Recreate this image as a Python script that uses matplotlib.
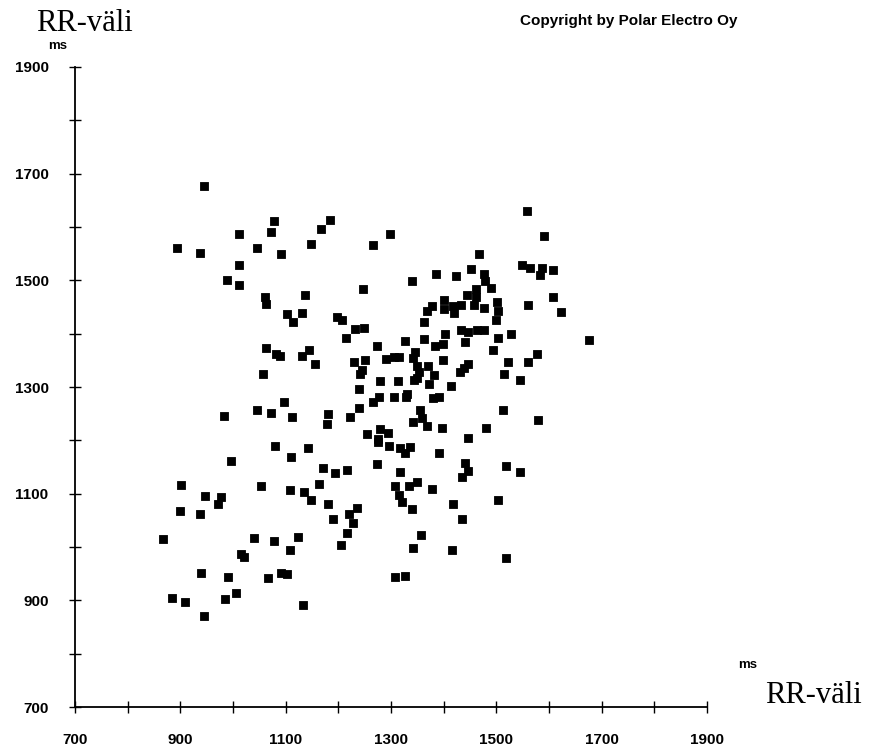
import matplotlib
matplotlib.use("Agg")
import matplotlib.pyplot as plt
from matplotlib.ticker import MultipleLocator

# RR interval n (x) vs RR interval n+1 (y), ms
rr_n = [945, 1077, 1185, 1168, 1011, 1073, 894, 938, 1045, 1091, 1148, 1011, 989, 1011,
        1060, 1063, 1137, 1102, 1131, 1114, 1299, 1266, 1468, 1385, 1424, 1452, 1477,
        1478, 1340, 1247, 1490, 1461, 1461, 1444, 1401, 1502, 1377, 1369, 1401, 1418,
        1419, 1433, 1457, 1477, 1503, 1499, 1363, 1197, 1207, 1232, 1248, 1558, 1591,
        1549, 1564, 1587, 1583, 1608, 1608, 1560, 1623, 1504, 1527, 1675, 1493, 1577,
        1523, 1560, 1514, 1545, 1513, 1580, 1518, 1544, 1504, 1518, 1063, 1082, 1089,
        1144, 1131, 1156, 1057, 1096, 1045, 1072, 1112, 982, 1181, 1178, 1080, 1142,
        1110, 996, 1170, 1215, 1433, 1446, 1464, 1476, 1403, 1326, 1363, 1440, 1273,
        1384, 1399, 1346, 1341, 1290, 1306, 1316, 1229, 1251, 1399, 1349, 1353, 1349,
        1344, 1370, 1447, 1439, 1431, 1245, 1242, 1382, 1279, 1313, 1372, 1414, 1239,
        1330, 1328, 1305, 1277, 1265, 1380, 1392, 1239, 1223, 1355, 1358, 1342, 1368,
        1397, 1480, 1280, 1294, 1254, 1275, 1275, 1446, 1297, 1317, 1336, 1326, 1392,
        1274, 1194, 1216, 1318, 1441, 1446, 1434, 902, 946, 977, 972, 899, 937, 1054,
        1108, 1135, 1164, 1148, 1180, 868, 1039, 1078, 1123, 1108, 1016, 1021, 939,
        990, 1067, 1091, 1102, 885, 909, 985, 1006, 944, 1133, 1307, 1334, 1349, 1378,
        1315, 1321, 1339, 1235, 1220, 1189, 1227, 1216, 1205, 1418, 1435, 1357, 1342,
        1415, 1308, 1327]
rr_n1 = [1677, 1611, 1613, 1596, 1586, 1590, 1561, 1552, 1561, 1549, 1568, 1529, 1501, 1491,
         1468, 1456, 1473, 1437, 1439, 1421, 1587, 1567, 1550, 1511, 1509, 1521, 1511,
         1499, 1498, 1483, 1485, 1484, 1468, 1472, 1464, 1459, 1452, 1442, 1447, 1451,
         1439, 1453, 1453, 1448, 1443, 1426, 1422, 1431, 1425, 1409, 1411, 1630, 1583,
         1529, 1524, 1524, 1510, 1519, 1468, 1454, 1441, 1392, 1399, 1388, 1370, 1362,
         1347, 1347, 1324, 1314, 1256, 1238, 1151, 1141, 1088, 979, 1374, 1362, 1358,
         1369, 1358, 1343, 1324, 1271, 1256, 1251, 1244, 1245, 1250, 1231, 1190, 1185,
         1169, 1161, 1149, 1392, 1407, 1403, 1407, 1406, 1399, 1387, 1390, 1385, 1376,
         1377, 1381, 1365, 1355, 1353, 1357, 1356, 1347, 1351, 1350, 1340, 1329, 1316,
         1313, 1339, 1343, 1335, 1329, 1332, 1324, 1323, 1312, 1312, 1305, 1301, 1296,
         1286, 1282, 1281, 1282, 1272, 1280, 1281, 1261, 1244, 1257, 1241, 1234, 1226,
         1223, 1223, 1222, 1213, 1211, 1203, 1196, 1204, 1189, 1186, 1188, 1177, 1176,
         1156, 1139, 1145, 1140, 1157, 1143, 1131, 1117, 1096, 1094, 1081, 1067, 1062,
         1114, 1107, 1103, 1119, 1088, 1080, 1015, 1016, 1012, 1018, 995, 986, 982, 951,
         944, 942, 951, 950, 905, 897, 903, 913, 871, 891, 1115, 1114, 1121, 1109, 1098,
         1085, 1071, 1073, 1062, 1052, 1045, 1027, 1003, 1080, 1053, 1023, 998, 994,
         944, 946]

major_ticks = [700, 900, 1100, 1300, 1500, 1700, 1900]
tick_labels = ['700', '900', '1100', '1300', '1500', '1700', '1900']

plt.rcParams['font.family'] = ['Liberation Sans', 'DejaVu Sans']

fig = plt.figure(figsize=(8.75, 7.51), dpi=100)
ax = fig.add_axes([75 / 875, 1 - 707 / 751, 632 / 875, 640 / 751])

ax.scatter(rr_n, rr_n1, marker='s', s=26, color='black', linewidths=0.6,
           edgecolors='black', zorder=3, clip_on=False)

ax.set_xlim(700, 1900)
ax.set_ylim(700, 1900)
for side in ['top', 'right']:
    ax.spines[side].set_visible(False)
for side in ['left', 'bottom']:
    ax.spines[side].set_linewidth(1.3)

ax.set_xticks(major_ticks)
ax.set_yticks(major_ticks)
ax.set_xticklabels(tick_labels, fontweight='bold', fontsize=11)
ax.set_yticklabels(tick_labels, fontweight='bold', fontsize=11)
ax.xaxis.set_minor_locator(MultipleLocator(100))
ax.yaxis.set_minor_locator(MultipleLocator(100))
ax.tick_params(which='both', direction='inout', length=8, width=1.0)
ax.tick_params(axis='x', which='major', pad=15)
ax.tick_params(axis='y', which='major', pad=15)

# axis titles
fig.text(36 / 875, 1 - 31 / 751, 'RR-väli', family='Liberation Serif',
         fontsize=22, va='baseline', ha='left')
fig.text(48 / 875, 1 - 49 / 751, 'ms', fontsize=9.5, fontweight='bold',
         va='baseline', ha='left')
fig.text(862 / 875, 1 - 703 / 751, 'RR-väli', family='Liberation Serif',
         fontsize=22, va='baseline', ha='right')
fig.text(738 / 875, 1 - 668 / 751, 'ms', fontsize=9.5, fontweight='bold',
         va='baseline', ha='left')
fig.text(520 / 875, 1 - 24.5 / 751, 'Copyright by Polar Electro Oy', fontsize=11,
         fontweight='bold', va='baseline', ha='left')

fig.savefig('out.png', dpi=100, facecolor='white')
